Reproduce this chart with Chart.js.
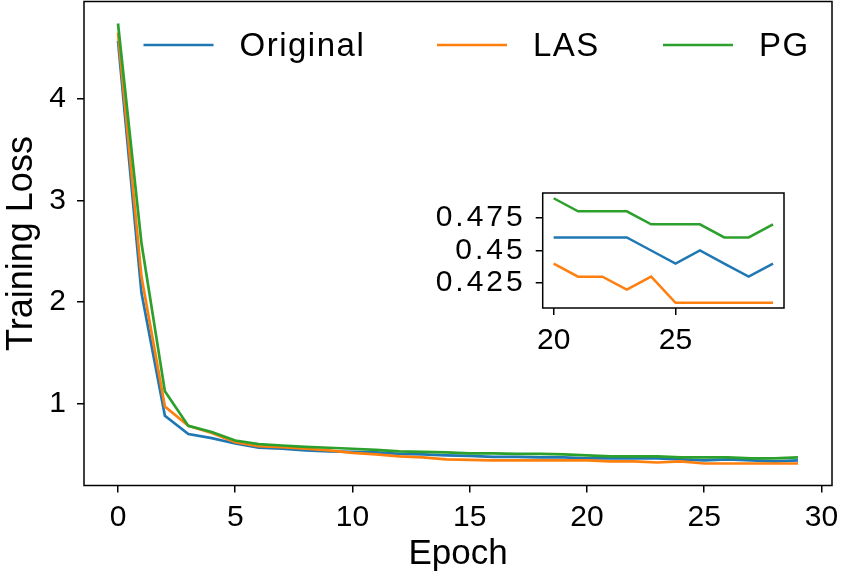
<!DOCTYPE html>
<html><head><meta charset="utf-8">
<script src="https://cdn.jsdelivr.net/npm/chart.js@4.4.0/dist/chart.umd.min.js"></script>
<style>
html,body{margin:0;padding:0;background:#fff;}
#wrap{position:relative;width:843px;height:576px;overflow:hidden;}
#main{position:absolute;left:0;top:0;}
#inset{position:absolute;left:400px;top:170px;}
</style></head><body>
<div id="wrap"><canvas id="main" width="843" height="576"></canvas><canvas id="inset" width="400" height="200"></canvas></div>
<script>
// ---- data ----
const epochs = [0,1,2,3,4,5,6,7,8,9,10,11,12,13,14,15,16,17,18,19,20,21,22,23,24,25,26,27,28,29];
const seriesNames = ['Original', 'LAS', 'PG'];
const original = [4.57,2.09,0.88,0.70,0.66,0.607,0.565,0.555,0.54,0.53,0.525,0.52,0.505,0.50,0.49,0.485,0.475,0.475,0.47,0.47,0.46,0.46,0.46,0.46,0.45,0.44,0.45,0.44,0.43,0.44];
const las      = [4.65,2.25,0.97,0.78,0.71,0.62,0.58,0.57,0.555,0.54,0.515,0.50,0.48,0.47,0.45,0.445,0.44,0.44,0.44,0.44,0.44,0.43,0.43,0.42,0.43,0.41,0.41,0.41,0.41,0.41];
const pg       = [4.74,2.58,1.12,0.78,0.72,0.636,0.60,0.587,0.574,0.565,0.555,0.545,0.53,0.525,0.52,0.51,0.51,0.505,0.505,0.50,0.49,0.48,0.48,0.48,0.47,0.47,0.47,0.46,0.46,0.47];
const mainXTicks = [0,5,10,15,20,25,30];
const mainYTicks = [1,2,3,4];
const insetFromEpoch = 20;
const insetXTicks = [20,25];
const insetYTicks = [0.425,0.45,0.475];
const insetYTickLabels = ['0.425','0.45','0.475'];
const xTitle = 'Epoch';
const yTitle = 'Training Loss';

// ---- style ----
const colors = ['#1f77b4','#ff7f0e','#2ca02c'];
const FONT = "'Liberation Sans', Arial, sans-serif";
Chart.defaults.font.family = FONT;
Chart.defaults.color = '#000';

const seriesValues = [original, las, pg];

function limits(vals){
  const lo = Math.min(...vals), hi = Math.max(...vals), m = 0.05*(hi-lo);
  return [lo-m, hi+m];
}

function makeDatasets(fromIdx, width){
  return seriesNames.map((name,i)=>({
    label: name,
    data: epochs.slice(fromIdx).map((e,k)=>({x:e, y:seriesValues[i][fromIdx+k]})),
    borderColor: colors[i],
    backgroundColor: colors[i],
    borderWidth: width,
    pointRadius: 0,
    tension: 0,
    fill: false,
    order: 3 - i
  }));
}

function spacedLabels(s, spacing){
  if (s._spacedWrap) return;
  const orig = s.drawLabels.bind(s);
  s.drawLabels = (area) => {
    const c = s.ctx;
    const prev = c.letterSpacing;
    c.letterSpacing = spacing;
    orig(area);
    c.letterSpacing = prev || '0px';
  };
  s._spacedWrap = true;
}

const framePlugin = {
  id: 'frame',
  beforeDraw(chart){
    const cfg = chart.options.plugins.frame || {};
    const a = chart.chartArea, c = chart.ctx;
    if (cfg.fill){
      c.save(); c.fillStyle = '#fff';
      c.fillRect(a.left, a.top, a.right-a.left, a.bottom-a.top);
      c.restore();
    }
  },
  afterDraw(chart){
    const a = chart.chartArea, c = chart.ctx;
    c.save();
    c.strokeStyle = '#000'; c.lineWidth = 1.5;
    c.strokeRect(a.left, a.top, a.right-a.left, a.bottom-a.top);
    c.restore();
  }
};

const legendPlugin = {
  id: 'customLegend',
  afterDraw(chart){
    const cfg = chart.options.plugins.customLegend;
    if (!cfg || !cfg.show) return;
    const c = chart.ctx;
    c.save();
    c.font = '33px ' + FONT;
    c.letterSpacing = '1.5px';
    c.textBaseline = 'middle';
    c.textAlign = 'left';
    const starts = [143.5, 437, 663];
    chart.data.datasets.forEach((ds, i)=>{
      const x = starts[i], y = 45;
      c.strokeStyle = ds.borderColor; c.lineWidth = 2.7;
      c.beginPath(); c.moveTo(x, y); c.lineTo(x+70, y); c.stroke();
      c.fillStyle = '#000';
      c.fillText(ds.label, x+96, y+1.5);
    });
    c.restore();
  }
};

function axisCommon(){
  return {
    grid: {display:true, drawOnChartArea:false, drawTicks:true, tickLength:7, color:'#000', lineWidth:1.5},
    border: {display:false}
  };
}

// ---- main chart ----
const allVals = [].concat(original, las, pg);
const [yMin, yMax] = limits(allVals);
const [xMin, xMax] = limits(epochs);

new Chart(document.getElementById('main'), {
  type: 'line',
  data: { datasets: makeDatasets(0, 2.7) },
  plugins: [framePlugin, legendPlugin],
  options: {
    responsive: false, animation: false, events: [],
    layout: { padding: {top:1.5, right:11, left:0, bottom:0} },
    plugins: { legend:{display:false}, tooltip:{enabled:false}, customLegend:{show:true}, frame:{fill:false} },
    scales: {
      x: Object.assign(axisCommon(), {
        type:'linear', min:xMin, max:xMax,
        afterBuildTicks: s => { s.ticks = mainXTicks.map(v=>({value:v})); },
        afterFit: s => { s.height = 90.5; s.paddingLeft = 0; s.paddingRight = 0; },
        ticks: { font:{size:30}, padding:7.5, autoSkip:false, maxRotation:0, callback: v => String(v) },
        title: { display:true, text:xTitle, font:{size:35}, padding:{top:0,bottom:0.5} }
      }),
      y: Object.assign(axisCommon(), {
        type:'linear', min:yMin, max:yMax,
        afterBuildTicks: s => { s.ticks = mainYTicks.map(v=>({value:v})); },
        afterFit: s => { s.width = 84; s.paddingTop = 0; s.paddingBottom = 0; },
        ticks: { font:{size:30}, padding:11, autoSkip:false, callback: v => String(v) },
        title: { display:true, text:yTitle, font:{size:36}, padding:{top:0.5,bottom:0} }
      })
    }
  }
});

// ---- inset chart ----
const insetIdx = epochs.indexOf(insetFromEpoch);
const insetVals = [].concat(original.slice(insetIdx), las.slice(insetIdx), pg.slice(insetIdx));
const [iyMin, iyMax] = limits(insetVals);
const [ixMin, ixMax] = limits(epochs.slice(insetIdx));

new Chart(document.getElementById('inset'), {
  type: 'line',
  data: { datasets: makeDatasets(insetIdx, 2.5) },
  plugins: [framePlugin],
  options: {
    responsive: false, animation: false, events: [],
    layout: { padding: {top:23, right:16, left:0, bottom:0} },
    plugins: { legend:{display:false}, tooltip:{enabled:false}, frame:{fill:true} },
    scales: {
      x: Object.assign(axisCommon(), {
        type:'linear', min:ixMin, max:ixMax,
        afterBuildTicks: s => { s.ticks = insetXTicks.map(v=>({value:v})); },
        afterFit: s => { s.height = 62; s.paddingLeft = 0; s.paddingRight = 0; },
        ticks: { font:{size:30}, padding:7.5, autoSkip:false, maxRotation:0, callback: v => String(v) }
      }),
      y: Object.assign(axisCommon(), {
        type:'linear', min:iyMin, max:iyMax,
        afterBuildTicks: s => { s.ticks = insetYTicks.map(v=>({value:v})); },
        afterFit: s => { s.width = 142.7; s.paddingTop = 0; s.paddingBottom = 0; spacedLabels(s, '3px'); },
        ticks: { font:{size:30}, padding:10, autoSkip:false, callback: (v, i) => insetYTickLabels[i] }
      })
    }
  }
});
</script>
</body></html>
